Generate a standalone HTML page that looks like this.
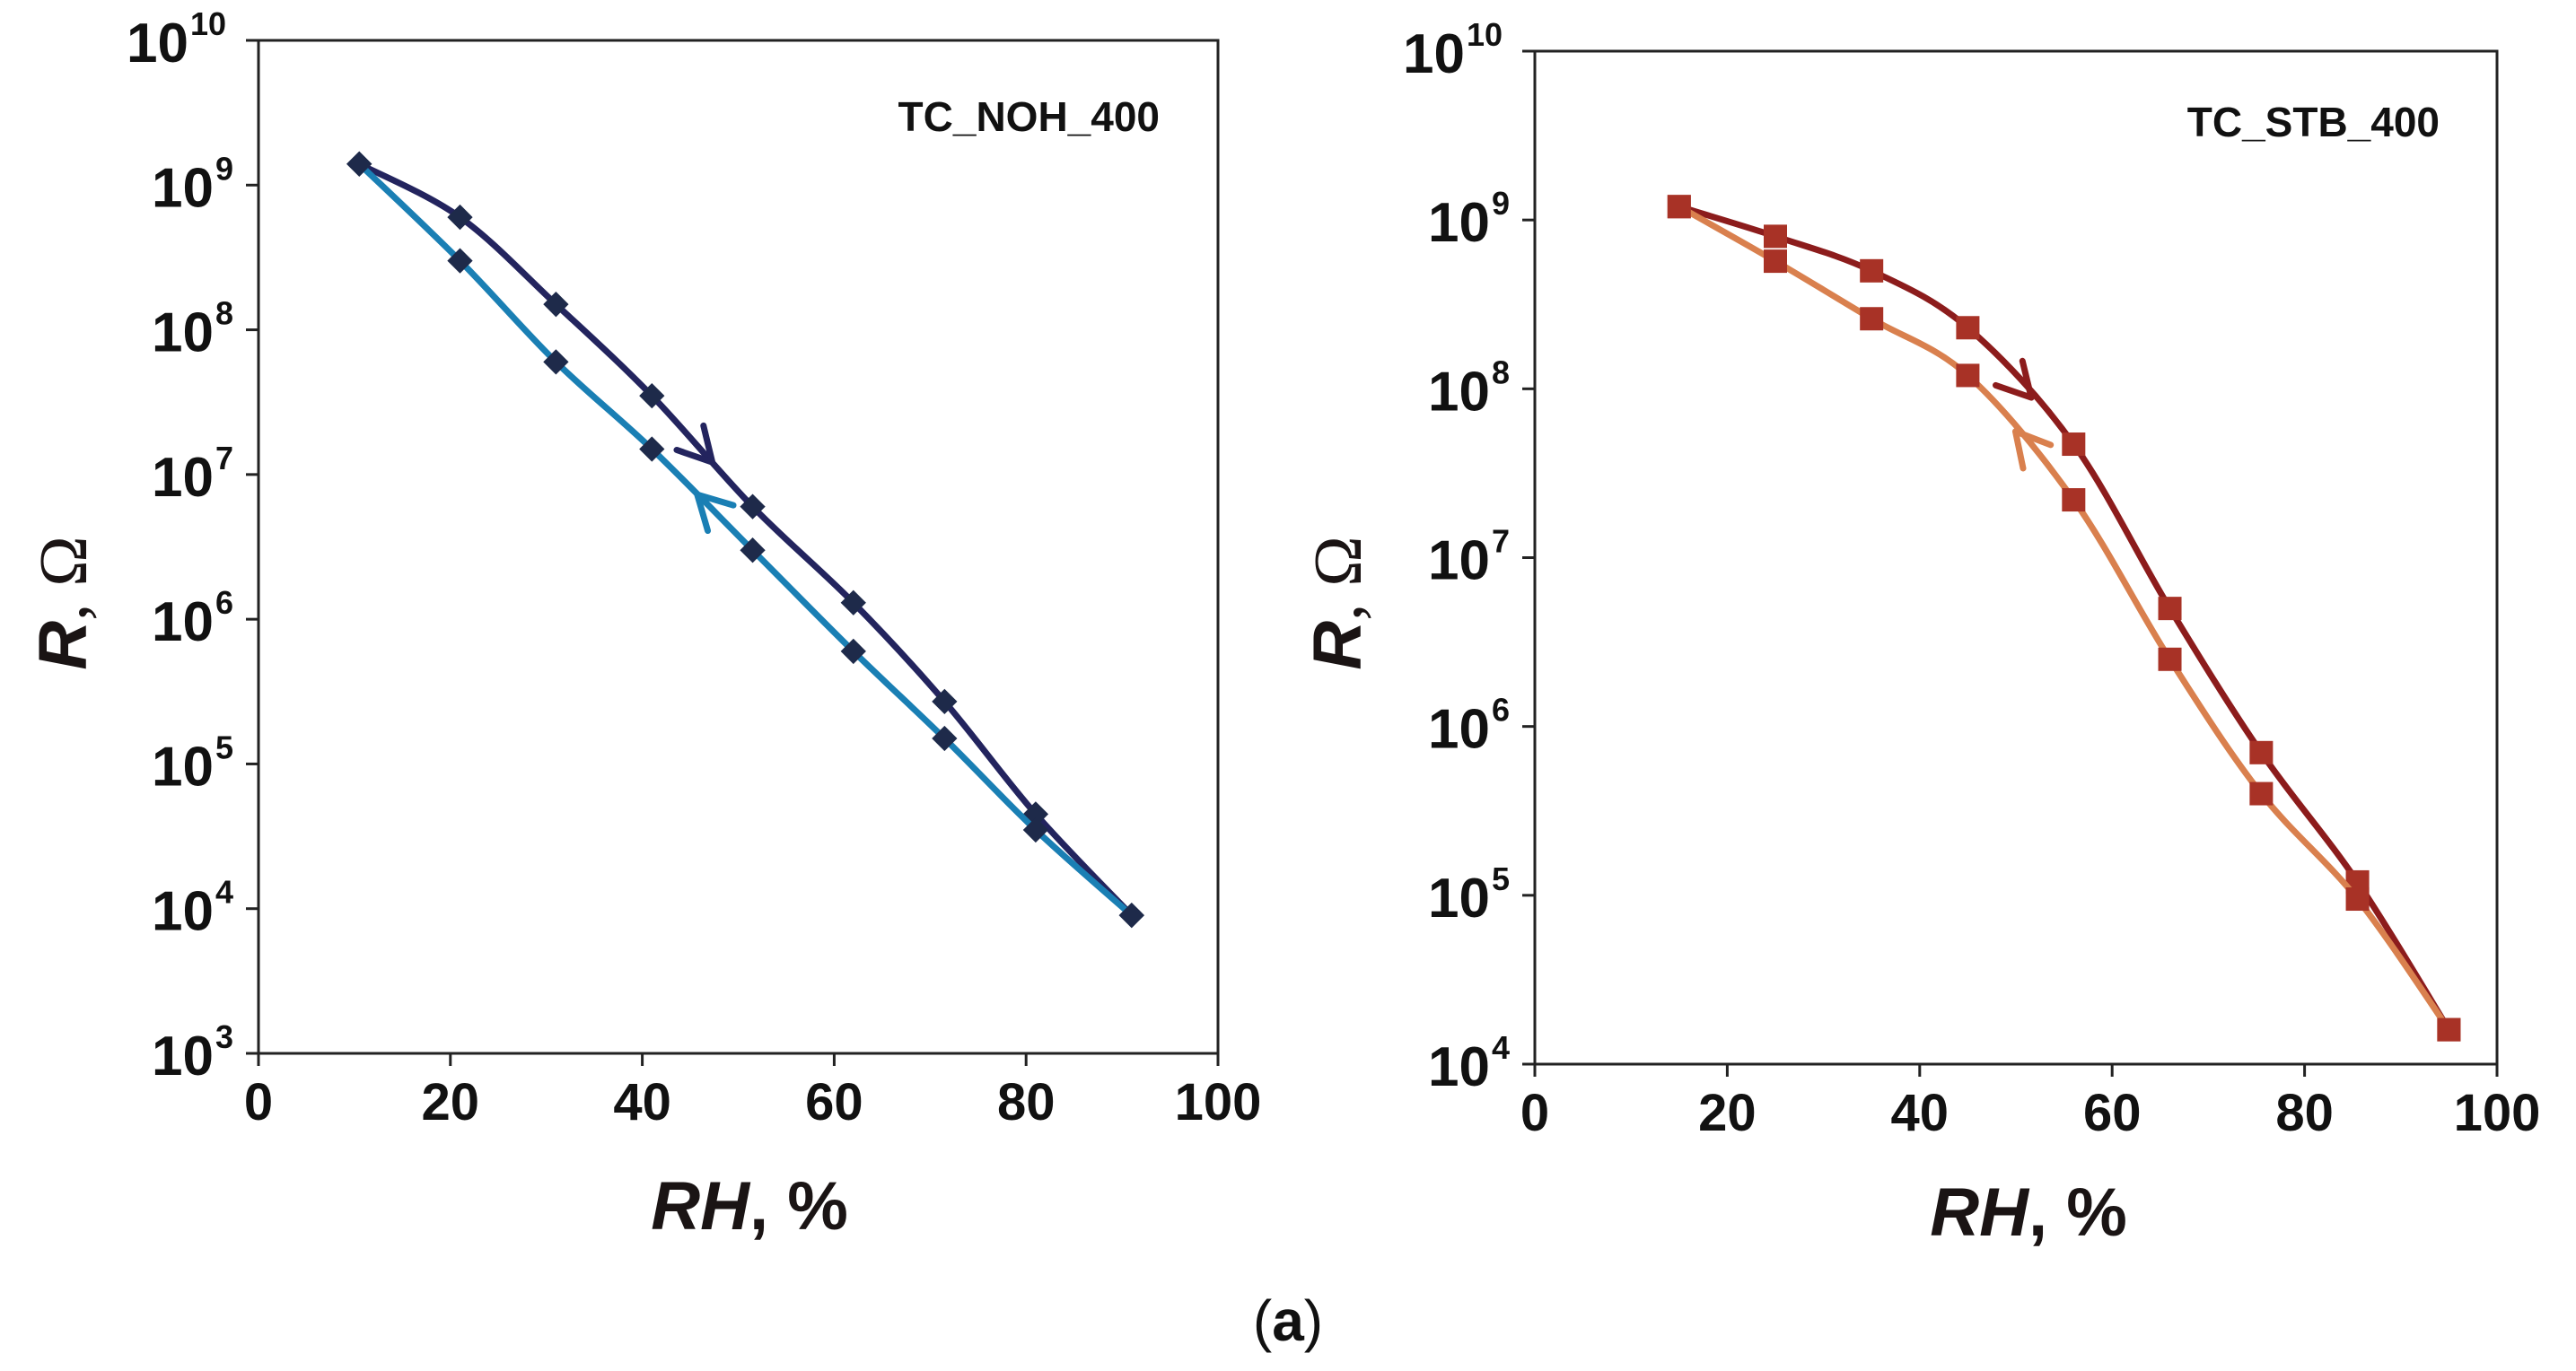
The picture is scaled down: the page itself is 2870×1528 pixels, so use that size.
<!DOCTYPE html>
<html><head><meta charset="utf-8"><style>
body{margin:0;background:#fff;}
svg{display:block;}
text{font-family:"Liberation Sans",sans-serif;}
</style></head><body>
<svg id="c" width="2870" height="1528" viewBox="0 0 2870 1528" xmlns="http://www.w3.org/2000/svg"></svg>
<script>
const NS='http://www.w3.org/2000/svg';
const svg=document.getElementById('c');
// data
const xTicks=[0,20,40,60,80,100];
const leftRH=[10.5,21,31,41,51.5,62,71.5,81,91];
const leftFwd=[1.4e9,6e8,1.5e8,3.5e7,6e6,1.3e6,2.7e5,4.5e4,9e3];
const leftRev=[1.4e9,3e8,6e7,1.5e7,3e6,6e5,1.5e5,3.5e4,9e3];
const leftDecades=[3,4,5,6,7,8,9,10];
const rightRH=[15,25,35,45,56,66,75.5,85.5,95];
const rightFwd=[1.2e9,8e8,5e8,2.3e8,4.7e7,5e6,7e5,1.2e5,1.6e4];
const rightRev=[1.2e9,5.7e8,2.6e8,1.2e8,2.2e7,2.5e6,4e5,9.5e4,1.6e4];
const rightDecades=[4,5,6,7,8,9,10];

function el(tag,attrs,parent){const e=document.createElementNS(NS,tag);for(const k in attrs)e.setAttribute(k,attrs[k]);(parent||svg).appendChild(e);return e;}
function smooth(pts){let d=`M${pts[0][0]},${pts[0][1]}`;for(let i=0;i<pts.length-1;i++){const p0=pts[Math.max(0,i-1)],p1=pts[i],p2=pts[i+1],p3=pts[Math.min(pts.length-1,i+2)];
const c1=[p1[0]+(p2[0]-p0[0])/6,p1[1]+(p2[1]-p0[1])/6],c2=[p2[0]-(p3[0]-p1[0])/6,p2[1]-(p3[1]-p1[1])/6];d+=` C${c1[0]},${c1[1]} ${c2[0]},${c2[1]} ${p2[0]},${p2[1]}`;}return d;}

function chart(o){
  const g=el('g',{});
  
  
  const X=v=>o.x0+(v/100)*(o.x1-o.x0);
  const lo=o.decades[0],hi=o.decades[o.decades.length-1];
  const Y=v=>o.y1-(Math.log10(v)-lo)/(hi-lo)*(o.y1-o.y0);
  const frame=el('rect',{x:o.x0,y:o.y0,width:o.x1-o.x0,height:o.y1-o.y0,fill:'none',stroke:'#222',"stroke-width":3},g);
  
  o.decades.forEach(d=>{const y=o.y1-(d-lo)/(hi-lo)*(o.y1-o.y0);
    el('line',{x1:o.x0-14,x2:o.x0,y1:y,y2:y,stroke:'#222',"stroke-width":3},g);
    const sx=o.x0-16-(d>=10?62:34);
    const t=el('text',{x:sx,y:y+24,"text-anchor":"end","font-size":62,"font-weight":"bold",fill:'#111'},g);
    t.textContent='10';
    
    const s=el('text',{x:sx+2,y:y-6,"text-anchor":"start","font-size":36,"font-weight":"bold",fill:'#111'},g);
    s.textContent=String(d);
    
  });
  xTicks.forEach(v=>{const x=X(v);
    el('line',{x1:x,x2:x,y1:o.y1,y2:o.y1+14,stroke:'#222',"stroke-width":3},g);
    const t=el('text',{x:x,y:o.y1+74,"text-anchor":"middle","font-size":58,"font-weight":"bold",fill:'#111'},g);
    t.textContent=v;
    
  });
  const xt=el('text',{x:o.xtx,y:o.xty,"text-anchor":"middle","font-size":76,"font-weight":"bold","font-style":"italic",fill:'#1a1414'},g);
  xt.innerHTML='RH<tspan font-style="normal">, %</tspan>';
  
  const yt=el('text',{x:0,y:0,transform:`translate(${o.ytx},${o.yty}) rotate(-90)`,"text-anchor":"middle","font-size":76,"font-weight":"bold",fill:'#1a1414'},g);
  yt.innerHTML='<tspan font-style="italic">R</tspan><tspan font-weight="normal" font-family="Liberation Serif">, Ω</tspan>';
  
  const lb=el('text',{x:o.lx,y:o.ly,"text-anchor":"end","font-size":46,"font-weight":"bold",fill:'#111'},g);
  lb.textContent=o.label;
  
  [[o.fwd,o.cf,'forward'],[o.rev,o.cr,'reverse']].forEach(([vals,col,nm])=>{
    const pts=o.rh.map((r,i)=>[X(r),Y(vals[i])]);
    const p=el('path',{d:smooth(pts),fill:'none',stroke:col,"stroke-width":7,"stroke-linejoin":"round"},g);
    
    const i=o.arrowIdx, a=pts[i], b=pts[i+1];
    const t=nm==='forward'?0.6:0.45;
    const px=a[0]+(b[0]-a[0])*t, py=a[1]+(b[1]-a[1])*t;
    let ang=Math.atan2(b[1]-a[1],b[0]-a[0]); if(nm==='reverse')ang+=Math.PI;
    const L=42,sp=0.5;
    const d=`M${px-L*Math.cos(ang-sp)},${py-L*Math.sin(ang-sp)} L${px},${py} L${px-L*Math.cos(ang+sp)},${py-L*Math.sin(ang+sp)}`;
    const ar=el('path',{d:d,fill:'none',stroke:col,"stroke-width":7,"stroke-linecap":"round","stroke-linejoin":"round"},g);
    
    pts.forEach(q=>{
      let m;
      if(o.marker==='diamond'){m=el('rect',{x:q[0]-10,y:q[1]-10,width:20,height:20,fill:'#1e2a4a',transform:`rotate(45 ${q[0]} ${q[1]})`},g);}
      else {m=el('rect',{x:q[0]-13,y:q[1]-13,width:26,height:26,fill:'#a83226'},g);}
      
    });
  });
}
chart({name:'chart-tc-noh-400',x0:288,x1:1357,y0:45,y1:1174,decades:leftDecades,rh:leftRH,fwd:leftFwd,rev:leftRev,
  cf:'#23245e',cr:'#1a7fb4',marker:'diamond',label:'TC_NOH_400',lx:1292,ly:146,xtx:835,xty:1370,ytx:96,yty:672,arrowIdx:3});
chart({name:'chart-tc-stb-400',x0:1710,x1:2782,y0:57,y1:1186,decades:rightDecades,rh:rightRH,fwd:rightFwd,rev:rightRev,
  cf:'#8c1c1c',cr:'#d9804e',marker:'square',label:'TC_STB_400',lx:2718,ly:152,xtx:2260,xty:1377,ytx:1516,yty:672,arrowIdx:3});
const cap=el('text',{x:1435,y:1494,"text-anchor":"middle","font-size":64,fill:'#111',"font-family":"Liberation Serif"});
cap.innerHTML='(<tspan font-weight="bold">a</tspan>)';


</script>
</body></html>
